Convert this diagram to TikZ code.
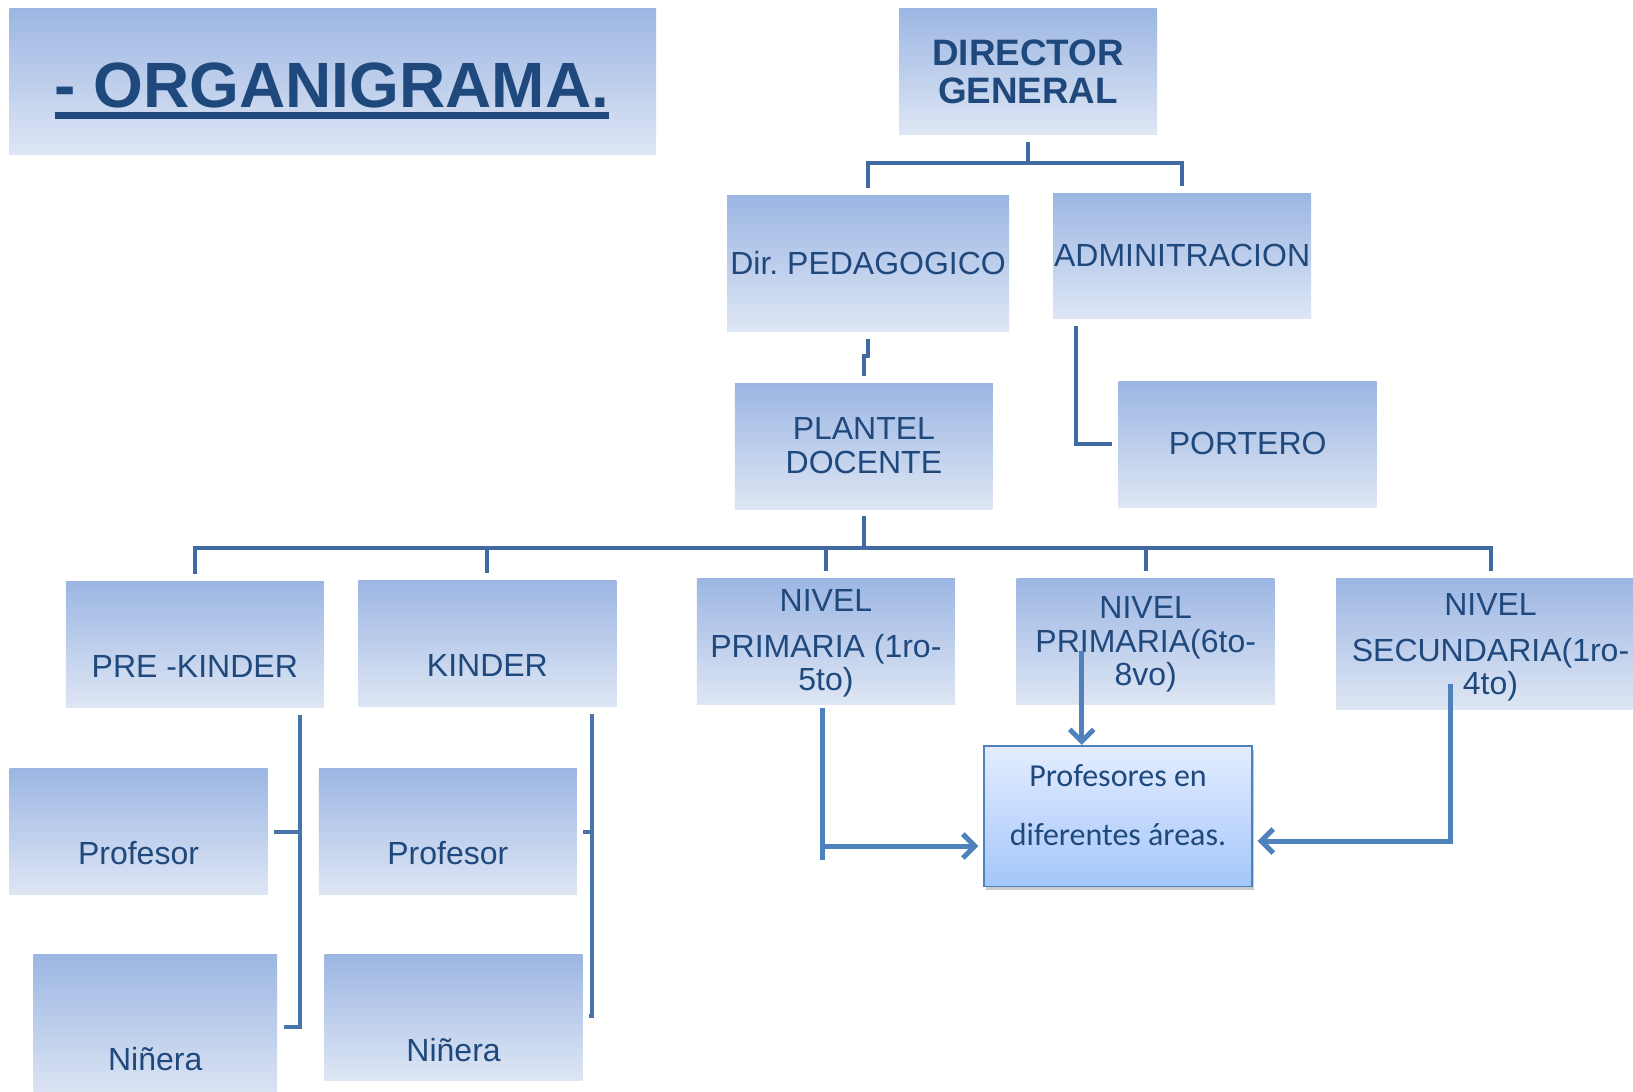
\documentclass[tikz,border=0pt]{standalone}
\usepackage{fontspec}
\setmainfont{Liberation Sans}
\newfontfamily\calibri{Carlito}
\usetikzlibrary{arrows.meta,shadows}
\definecolor{azul}{RGB}{31,73,125}
\definecolor{cajaarriba}{RGB}{156,182,227}
\definecolor{cajaabajo}{RGB}{222,230,244}
\definecolor{linea}{RGB}{65,107,160}
\definecolor{flecha}{RGB}{79,129,189}
\definecolor{proarriba}{RGB}{228,237,255}
\definecolor{proabajo}{RGB}{164,198,250}
\newcommand{\subrayado}[1]{\setbox0\hbox{#1}\rlap{\rule[-6pt]{\wd0}{3.5pt}}\box0}

\begin{document}
\begin{tikzpicture}[x=0.5pt, y=-0.5pt,
  caja/.style={rectangle, inner sep=0pt, minimum width=129pt, minimum height=63pt, top color=cajaarriba, bottom color=cajaabajo},
  texto/.style={text=azul, font=\fontsize{16}{16.75}\selectfont, align=center, inner sep=0pt, anchor=base},
  rama/.style={draw=linea, line width=2pt},
  corchete/.style={draw=flecha!90!black, line width=2pt},
  flechas/.style={draw=flecha, line width=2.5pt, -{Straight Barb[length=6pt,width=12pt]}}]
\useasboundingbox (0,0) rectangle (1633,1092);
\fill[white] (0,0) rectangle (1633,1092);
\clip (0,0) rectangle (1633,1092);

\node[caja, minimum width=323.4pt, minimum height=72.9pt] (titulo) at (332.7,81.2) {};
\node[texto, font=\bfseries\fontsize{32}{34}\selectfont] (tit) at (332,107) {\subrayado{- ORGANIGRAMA.}};

\node[caja] (dir) at (1028,71.3) {};
\node[caja, minimum width=141.1pt, minimum height=67.7pt] (ped) at (868.1,263.5) {};
\node[caja, minimum height=62.5pt] (adm) at (1182.1,256.2) {};
\node[caja] (pla) at (863.9,446.3) {};
\node[caja] (por) at (1247.7,444.2) {};
\node[caja] (pk) at (194.8,644.2) {};
\node[caja] (kin) at (487.4,643.1) {};
\node[caja] (np1) at (825.9,641) {};
\node[caja] (np2) at (1145.7,641) {};
\node[caja, minimum width=154.5pt, minimum height=65.5pt] (ns) at (1490.5,643.6) {};
\node[caja] (prol) at (138.5,831.6) {};
\node[caja] (pror) at (447.8,831.6) {};
\node[caja, minimum width=121.9pt, minimum height=73pt] (ninl) at (155.2,1027) {};
\node[caja] (ninr) at (453.6,1017) {};
\node[rectangle, inner sep=0pt, minimum width=133.9pt, minimum height=70.3pt, draw=flecha, line width=0.8pt,
  top color=proarriba, bottom color=proabajo,
  drop shadow={shadow xshift=1pt, shadow yshift=-2pt, fill=black!40, opacity=0.5}] (pro) at (1118,816) {};

% multi-line texts sit on the baseline of their last line
\node[texto, font=\bfseries\fontsize{18.4}{19}\selectfont] (dirtxt) at (1028,103) {DIRECTOR\\GENERAL};
\node[texto] (pedtxt) at (868.1,274) {Dir.\ PEDAGOGICO};
\node[texto] (admtxt) at (1182.1,266.5) {ADMINITRACION};
\node[texto] (platxt) at (863.9,473) {PLANTEL\\DOCENTE};
\node[texto] (portxt) at (1247.7,454) {PORTERO};
\node[texto] (pktxt) at (194.8,677) {PRE -KINDER};
\node[texto] (kintxt) at (487.4,676) {KINDER};
\node[texto] (np1txt) at (825.9,690.5) {NIVEL\\[6.25pt]PRIMARIA (1ro-\\5to)};
\node[texto] (np2txt) at (1145.7,685.5) {NIVEL\\PRIMARIA(6to-\\8vo)};
\node[texto] (nstxt) at (1490.5,694.5) {NIVEL\\[6.25pt]SECUNDARIA(1ro-\\4to)};
\node[texto] (proltxt) at (138.5,864.5) {Profesor};
\node[texto] (prortxt) at (447.8,864.5) {Profesor};
\node[texto] (ninltxt) at (155.2,1070.5) {Niñera};
\node[texto] (ninrtxt) at (453.6,1061.5) {Niñera};
\node[texto, font=\calibri\fontsize{16}{29.5}\selectfont] (protxt) at (1118,845) {Profesores en\\diferentes áreas.};

\draw[rama] ([yshift=-3.5pt]dir.south) -- ++(0,21) -| ([yshift=3.5pt]ped.north);
\draw[rama] ([yshift=-3.5pt]dir.south) -- ++(0,21) -| ([yshift=3.5pt]adm.north);
\draw[rama] ([yshift=-3.5pt]ped.south) -- ++(0,17) -| ([yshift=3.5pt]pla.north);
\draw[rama] ([xshift=-53pt,yshift=-3.5pt]adm.south) |- ([xshift=-3pt]por.west);
\draw[rama] ([yshift=-3pt]pla.south) -- ++(0,32) coordinate (bus);
\foreach \n in {pk,kin,np1,np2,ns}
  \draw[rama] (bus) -| ([yshift=3.5pt]\n.north);

\draw[corchete] ([xshift=52.5pt,yshift=-3.5pt]pk.south) coordinate (pkbaja) |- ([xshift=3pt]ninl.east);
\draw[corchete] ([xshift=3pt]prol.east) -- (prol.east -| pkbaja);
\draw[corchete] ([xshift=52.5pt,yshift=-3.5pt]kin.south) coordinate (kinbaja) |- ([xshift=3pt,yshift=0.5pt]ninr.east);
\draw[corchete] ([xshift=3pt]pror.east) -- (pror.east -| kinbaja);

\draw[flechas, -] ([xshift=-1.5pt,yshift=-2pt]np1.south) coordinate (np1baja) -- ++(0,152);
\draw[flechas] ([yshift=-15pt]pro.west -| np1baja) -- ([xshift=-2.5pt,yshift=-15pt]pro.west);
\draw[flechas] ([xshift=-32pt,yshift=-5pt]np2.center) coordinate (np2baja) -- (np2baja |- pro.north);
\draw[flechas] ([xshift=-20pt,yshift=-20pt]ns.center) |- ([xshift=2.5pt,yshift=-12.5pt]pro.east);
\end{tikzpicture}
\end{document}
